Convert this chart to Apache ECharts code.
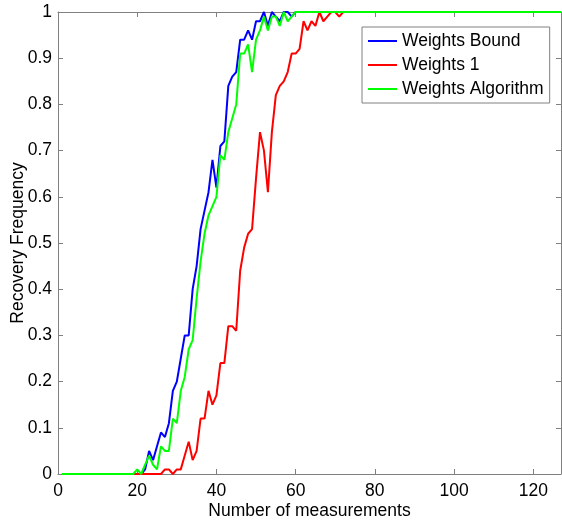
<!DOCTYPE html>
<html>
<head>
<meta charset="utf-8">
<script src="https://cdn.jsdelivr.net/npm/echarts@6/dist/echarts.min.js"></script>
<style>
html,body{margin:0;padding:0;background:#fff;}
#chart{width:562px;height:521px;}
</style>
</head>
<body>
<div id="chart"></div>
<script>
// Recovery frequency for number of measurements 1..127
var weightsBound = [
  0,0,0,0,0,0,0,0,0,0,
  0,0,0,0,0,0,0,0,0,0,
  0,0.01,0.05,0.03,0.06,0.09,0.08,0.11,0.18,0.20,
  0.25,0.30,0.30,0.40,0.45,0.53,0.57,0.61,0.68,0.62,
  0.71,0.72,0.84,0.86,0.87,0.94,0.94,0.96,0.94,0.98,
  0.98,1,0.97,1,0.99,0.98,1,1,0.99,1,
  1,1,1,1,1,1,1,1,1,1,
  1,1,1,1,1,1,1,1,1,1,
  1,1,1,1,1,1,1,1,1,1,
  1,1,1,1,1,1,1,1,1,1,
  1,1,1,1,1,1,1,1,1,1,
  1,1,1,1,1,1,1,1,1,1,
  1,1,1,1,1,1,1
];
var weights1 = [
  0,0,0,0,0,0,0,0,0,0,
  0,0,0,0,0,0,0,0,0,0,
  0,0,0,0,0,0,0.01,0.01,0,0.01,
  0.01,0.04,0.07,0.03,0.05,0.12,0.12,0.18,0.15,0.17,
  0.24,0.24,0.32,0.32,0.31,0.44,0.49,0.52,0.53,0.64,
  0.74,0.70,0.61,0.74,0.82,0.84,0.85,0.87,0.91,0.91,
  0.92,0.98,0.96,0.98,0.97,1,0.98,0.99,1,1,
  0.99,1,1,1,1,1,1,1,1,1,
  1,1,1,1,1,1,1,1,1,1,
  1,1,1,1,1,1,1,1,1,1,
  1,1,1,1,1,1,1,1,1,1,
  1,1,1,1,1,1,1,1,1,1,
  1,1,1,1,1,1,1
];
var weightsAlgorithm = [
  0,0,0,0,0,0,0,0,0,0,
  0,0,0,0,0,0,0,0,0,0.01,
  0,0.02,0.04,0.02,0.01,0.06,0.05,0.05,0.12,0.11,
  0.18,0.21,0.27,0.29,0.38,0.46,0.52,0.56,0.58,0.60,
  0.69,0.68,0.74,0.77,0.80,0.91,0.91,0.93,0.87,0.94,
  0.96,0.99,0.96,0.99,0.99,0.97,1,0.98,0.99,1,
  1,1,1,1,1,1,1,1,1,1,
  1,1,1,1,1,1,1,1,1,1,
  1,1,1,1,1,1,1,1,1,1,
  1,1,1,1,1,1,1,1,1,1,
  1,1,1,1,1,1,1,1,1,1,
  1,1,1,1,1,1,1,1,1,1,
  1,1,1,1,1,1,1
];
var seriesNames = ['Weights Bound', 'Weights 1', 'Weights Algorithm'];
var seriesColors = ['#0000ff', '#ff0000', '#00ff00'];
var xTitle = 'Number of measurements';
var yTitle = 'Recovery Frequency';

function pairs(arr) {
  return arr.map(function (v, i) { return [i + 1, v]; });
}

var FONT = '"Liberation Sans", Arial, Helvetica, sans-serif';
var FS = 17.5;
var AX = '#808080';

function xAx(pos, show) {
  return {
    type: 'value', min: 0, max: 127, interval: 20, position: pos,
    axisLine: { show: true, onZero: false, lineStyle: { color: AX, width: 1 } },
    axisTick: { show: true, inside: true, length: 5, lineStyle: { color: AX } },
    axisLabel: { show: show, color: '#000', fontSize: FS, fontFamily: FONT, margin: 8, showMaxLabel: false },
    splitLine: { show: false },
    name: show ? xTitle : '', nameLocation: 'middle', nameGap: 28, nameMoveOverlap: false,
    nameTextStyle: { color: '#000', fontSize: FS, fontFamily: FONT }
  };
}
function yAx(pos, show) {
  return {
    type: 'value', min: 0, max: 1, interval: 0.1, position: pos,
    axisLine: { show: true, onZero: false, lineStyle: { color: AX, width: 1 } },
    axisTick: { show: true, inside: true, length: 5, lineStyle: { color: AX } },
    axisLabel: { show: show, color: '#000', fontSize: FS, fontFamily: FONT, margin: 6 },
    splitLine: { show: false },
    name: show ? yTitle : '', nameLocation: 'middle', nameGap: 31, nameMoveOverlap: false,
    nameTextStyle: { color: '#000', fontSize: FS, fontFamily: FONT }
  };
}

var datasets = [weightsBound, weights1, weightsAlgorithm];
var chart = echarts.init(document.getElementById('chart'), null, { renderer: 'canvas' });
chart.setOption({
  animation: false,
  backgroundColor: '#fff',
  grid: { left: 58, top: 12, width: 503, height: 462, containLabel: false, outerBoundsMode: 'none' },
  xAxis: [xAx('bottom', true), xAx('top', false)],
  yAxis: [yAx('left', true), yAx('right', false)],
  legend: {
    orient: 'vertical', left: 362, top: 27,
    backgroundColor: '#fff', borderColor: AX, borderWidth: 1,
    padding: [5, 6, 5, 6], itemWidth: 29, itemHeight: 14, itemGap: 6,
    icon: 'path://M0,0L29,0L29,2L0,2Z',
    textStyle: { color: '#000', fontSize: FS, fontFamily: FONT, lineHeight: 18 },
    data: seriesNames
  },
  series: datasets.map(function (d, i) {
    return {
      name: seriesNames[i], type: 'line', xAxisIndex: 0, yAxisIndex: 0,
      data: pairs(d), symbol: 'none', showSymbol: false,
      color: seriesColors[i],
      lineStyle: { color: seriesColors[i], width: 2 },
      itemStyle: { color: seriesColors[i] },
      clip: true
    };
  })
});
</script>
</body>
</html>
